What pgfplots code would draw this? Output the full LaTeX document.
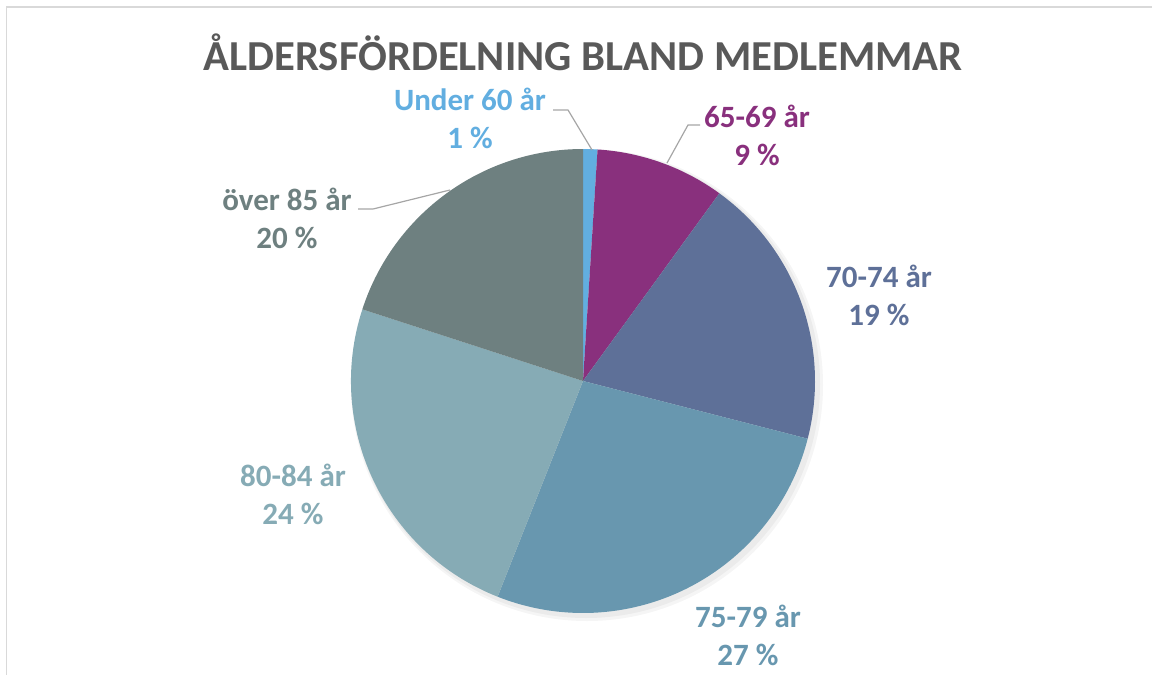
\documentclass[border=0pt]{standalone}
\usepackage{pgfplots}
\pgfplotsset{compat=1.18}
\usepackage{pgfplotstable}
\usepackage{fontspec}
\setmainfont{Carlito}

\definecolor{c1}{HTML}{62AEE0}
\definecolor{c2}{HTML}{89307D}
\definecolor{c3}{HTML}{5E7098}
\definecolor{c4}{HTML}{6897AF}
\definecolor{c5}{HTML}{86ABB5}
\definecolor{c6}{HTML}{6E8080}
\definecolor{titlegray}{HTML}{595959}
\definecolor{leader}{HTML}{A6A6A6}
\definecolor{frame}{HTML}{D9D9D9}

% share of members per age group, label position (base of first line)
\pgfplotstableread[col sep=comma,row sep=\\]{
label,value,color,lx,ly\\
Under 60 år,1,c1,470,110\\
65-69 år,9,c2,757,127\\
70-74 år,19,c3,879,287\\
75-79 år,27,c4,748,627\\
80-84 år,24,c5,293,486\\
över 85 år,20,c6,287,210\\
}\agedata

\tikzset{lab/.style={font=\fontsize{31}{38}\selectfont\bfseries, anchor=base, inner sep=0pt}}

\begin{document}
\begin{tikzpicture}
\useasboundingbox (0,0) rectangle (1152pt,675pt);
\begin{axis}[
    at={(0,0)}, anchor=south west,
    scale only axis,
    width=1152pt, height=675pt,
    xmin=0, xmax=1152, ymin=0, ymax=675,
    y dir=reverse,
    hide axis,
    clip=false,
]
% frame
\draw[frame, line width=1.5pt] (axis cs:6.5,675) -- (axis cs:6.5,7) -- (axis cs:1152,7);

% title
\node[font=\fontsize{42.7}{50}\selectfont\bfseries, text=titlegray, anchor=base]
    at (axis cs:583,70) {ÅLDERSFÖRDELNING BLAND MEDLEMMAR};

% soft shadow
\fill[black, opacity=0.04] (axis cs:587,385) circle[radius=236pt];
\fill[black, opacity=0.04] (axis cs:586,384) circle[radius=234pt];

% slices and labels
\def\acc{0}
\pgfplotsforeachungrouped \i in {0,...,5}{%
  \pgfplotstablegetelem{\i}{value}\of\agedata\let\v\pgfplotsretval
  \pgfplotstablegetelem{\i}{color}\of\agedata\let\c\pgfplotsretval
  \pgfplotstablegetelem{\i}{label}\of\agedata\let\l\pgfplotsretval
  \pgfplotstablegetelem{\i}{lx}\of\agedata\let\lx\pgfplotsretval
  \pgfplotstablegetelem{\i}{ly}\of\agedata\let\ly\pgfplotsretval
  \pgfmathsetmacro\sa{90-3.6*\acc}
  \pgfmathsetmacro\ea{90-3.6*(\acc+\v)}
  \pgfmathsetmacro\lyy{\ly+38}
  \edef\next{%
    \noexpand\fill[\c] (axis cs:583,381) -- ++(\sa:232pt)
      arc[start angle=\sa, end angle=\ea, radius=232pt] -- cycle;
    \noexpand\node[lab, text=\c] at (axis cs:\lx,\ly) {\l};
    \noexpand\node[lab, text=\c] at (axis cs:\lx,\lyy) {\v\space\noexpand\%};
  }%
  \next
  \pgfmathsetmacro\acc{\acc+\v}
}

% leader lines
\draw[leader, line width=1.2pt] (axis cs:553,110) -- (axis cs:568,110) -- (axis cs:592,150);
\draw[leader, line width=1.2pt] (axis cs:700,125) -- (axis cs:688,125) -- (axis cs:667,163);
\draw[leader, line width=1.2pt] (axis cs:358,209) -- (axis cs:373,209) -- (axis cs:450,190);
\end{axis}
\end{tikzpicture}
\end{document}
